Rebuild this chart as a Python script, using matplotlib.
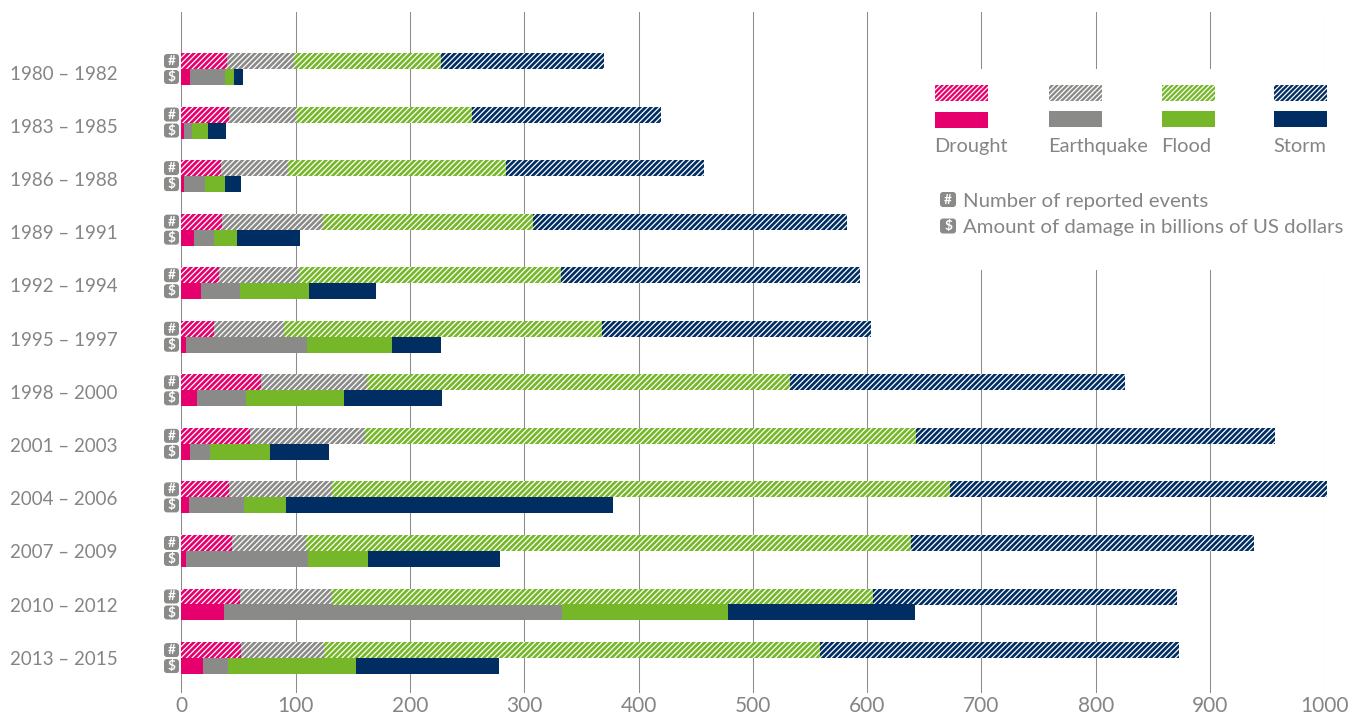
import matplotlib
matplotlib.use('Agg')
import matplotlib.pyplot as plt
import numpy as np
from matplotlib.patches import Rectangle, FancyBboxPatch
from matplotlib.transforms import IdentityTransform, ScaledTranslation

W, H, DPI = 1371, 715, 150
plt.rcParams['font.family'] = ['Lato', 'DejaVu Sans']
plt.rcParams['hatch.linewidth'] = 0.6

periods = ['1980 – 1982', '1983 – 1985', '1986 – 1988', '1989 – 1991', '1992 – 1994', '1995 – 1997',
           '1998 – 2000', '2001 – 2003', '2004 – 2006', '2007 – 2009', '2010 – 2012', '2013 – 2015']
names = ['Drought', 'Earthquake', 'Flood', 'Storm']
colors = ['#E6006E', '#8A8A88', '#76B729', '#002D62']

events_drought = [40, 42, 35, 36, 33, 29, 69.5, 60, 41.5, 44, 51, 52]
events_earthquake = [59, 58, 58, 88, 70, 61, 93, 101, 90, 65.5, 81, 73]
events_flood = [128.5, 154, 191.5, 184, 229, 278, 370, 482, 541, 529, 473, 434]
events_storm = [142.5, 166, 173, 274, 262, 235, 293, 314, 330, 300, 266, 314]

damage_drought = [8, 2, 2, 11, 17, 4, 13.5, 8, 6.5, 4, 37, 19]
damage_earthquake = [30, 7, 19, 18, 34, 106, 43, 17.5, 48, 107, 296, 22]
damage_flood = [8, 14, 17, 20, 61, 74, 86, 52.5, 37, 52.5, 145, 112]
damage_storm = [8, 16, 14, 55, 58, 43, 86, 51, 286, 115, 164, 125]

events = [events_drought, events_earthquake, events_flood, events_storm]
damage = [damage_drought, damage_earthquake, damage_flood, damage_storm]
xticks = list(range(0, 1001, 100))

TXT = '#858585'
fig = plt.figure(figsize=(W / DPI, H / DPI), dpi=DPI)
x0, x1, ytop, ybot = 181.3, 1324.3, 12.0, 693.0
ax = fig.add_axes([x0 / W, 1 - ybot / H, (x1 - x0) / W, (ybot - ytop) / H])
spacing = 53.55
ax.set_xlim(0, 1000)
ax.set_ylim((ybot - 69) / spacing, (ytop - 69) / spacing)
for s in ax.spines.values():
    s.set_visible(False)
ax.set_axisbelow(True)
ax.grid(axis='x', color='#8c8c8c', lw=0.5)
ax.set_xticks(xticks)
ax.tick_params(axis='x', length=0, labelsize=10.0, labelcolor=TXT, pad=1.5)
ypos = np.arange(len(periods))
ax.set_yticks(ypos, periods)
ax.tick_params(axis='y', length=0, labelsize=9.0, labelcolor=TXT, pad=(x0 - 10) * 72 / DPI)
for i, t in enumerate(ax.get_yticklabels()):
    t.set_ha('left')
    t.set_transform(t.get_transform() + ScaledTranslation(0, -(3.5 - 0.33 * i) / DPI, fig.dpi_scale_trans))

h = 16 / spacing
left_e = np.zeros(len(periods))
left_d = np.zeros(len(periods))
for e, d, col in zip(events, damage, colors):
    ax.barh(ypos - h / 2, e, h, left=left_e, color=col, edgecolor='white', linewidth=0,
            hatch='/' * 9, clip_on=False, zorder=2)
    ax.barh(ypos + h / 2, d, h, left=left_d, color=col, linewidth=0, clip_on=False, zorder=2)
    left_e += np.array(e)
    left_d += np.array(d)


def fx(px): return px / W
def fy(py): return 1 - py / H


def frect(xa, ya, xb, yb, **kw):
    r = Rectangle((fx(xa), fy(yb)), (xb - xa) / W, (yb - ya) / H, transform=fig.transFigure,
                  clip_on=False, **kw)
    ax.add_patch(r)


def badge(cx, cy, s, w=15, h_=14, fs=6.5):
    r = 3
    ax.add_patch(FancyBboxPatch((cx - w / 2 + r, H - cy - h_ / 2 + r), w - 2 * r, h_ - 2 * r,
                                boxstyle=f'round,pad={r},rounding_size={r}', transform=IdentityTransform(),
                                fc='#8A8A88', lw=0, clip_on=False, zorder=4))
    fig.text(fx(cx), fy(cy), s, color='white', fontsize=fs, fontweight='bold', ha='center',
             va='center', zorder=5, parse_math=False)


# badges beside each pair of bars
for i in ypos:
    yc = 69 + spacing * i
    badge(171.5, yc - 8, '#')
    badge(171.5, yc + 8, '$')

# legend area masks the gridlines
frect(900, 69, W, 270, fc='white', lw=0, zorder=1.5)
leg_x = [935, 1049, 1162, 1274]
solid_y = [112, 111, 111, 111]
for lx, sy, col, name in zip(leg_x, solid_y, colors, names):
    frect(lx, 85, lx + 53, 101, fc=col, ec='white', lw=0, hatch='/' * 10, zorder=3)
    frect(lx, sy, lx + 53, sy + 16, fc=col, lw=0, zorder=3)
    fig.text(fx(lx - 1), fy(152), name, color=TXT, fontsize=9.6, ha='left', va='baseline')

badge(948, 199.5, '#', w=16, h_=15)
badge(948, 226, '$', w=16, h_=15)
fig.text(fx(963), fy(201), 'Number of reported events', color=TXT, fontsize=9.8, ha='left', va='center')
fig.text(fx(963), fy(228), 'Amount of damage in billions of US dollars', color=TXT, fontsize=9.8, ha='left', va='center')

fig.savefig('out.png', dpi=DPI)
